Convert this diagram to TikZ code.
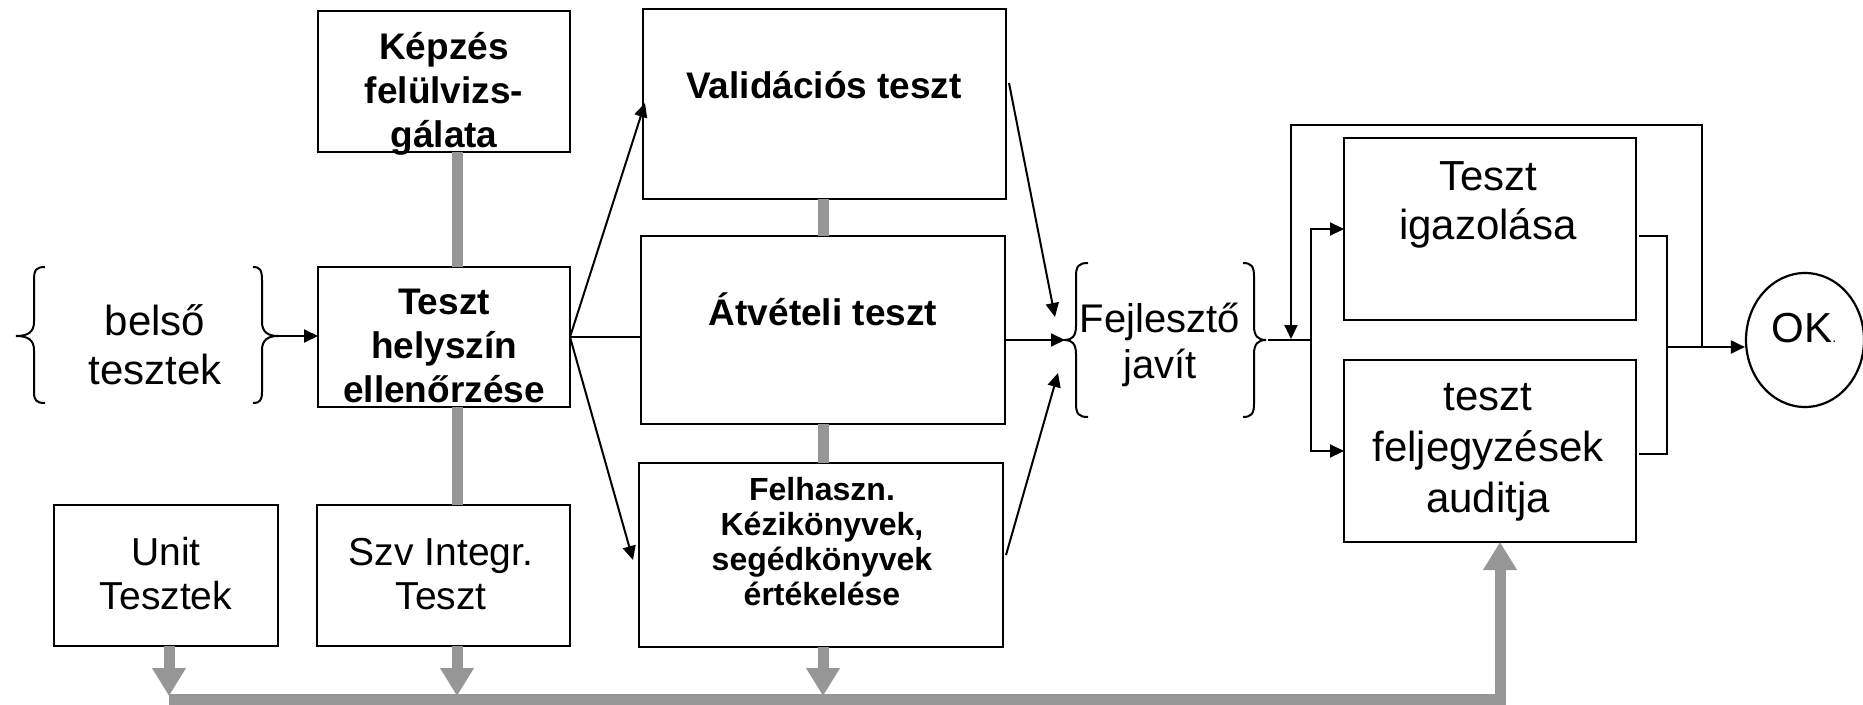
\documentclass[tikz,border=0pt]{standalone}
\usepackage{fontspec}
\setmainfont{Liberation Sans}
\usetikzlibrary{arrows.meta,calc,shapes.geometric}
\definecolor{gline}{RGB}{150,150,150}
\newcommand\fA{\fontsize{39}{44}\selectfont}
\newcommand\fB{\fontsize{42}{49}\selectfont}
\newcommand\fF{\fontsize{42}{51}\selectfont}
\newcommand\fC{\fontsize{37}{44}\selectfont\bfseries}
\newcommand\fD{\fontsize{32}{35}\selectfont\bfseries}
\newcommand\fE{\fontsize{40}{46}\selectfont}
\newcommand\ml[1]{\vtop{\halign{\hfil##\hfil\cr#1\crcr}}}
\tikzset{
  box/.style={draw, line width=2.2pt, inner sep=0pt, outer sep=0pt, anchor=north west},
  txt/.style={inner sep=0pt, outer sep=0pt, anchor=base},
  arr/.style={line width=2pt, -{Triangle[length=14pt,width=13pt]}},
  ln/.style={line width=2pt},
  gl/.style={draw=gline, line width=11pt},
  garr/.style={gl, -{Triangle[length=28pt,width=32pt]}},
  brc/.style={line width=2pt}
}
\begin{document}
\begin{tikzpicture}[x=1pt,y=-1pt]
\useasboundingbox (0,0) rectangle (1863,704);
% boxes
\node[box, minimum width=252pt, minimum height=141pt] (kep) at (318,11) {};
\node[box, minimum width=252pt, minimum height=140pt] (hely) at (318,267) {};
\node[box, minimum width=224pt, minimum height=141pt] (unit) at (54,505) {};
\node[box, minimum width=253pt, minimum height=141pt] (szv) at (317,505) {};
\node[box, minimum width=363pt, minimum height=190pt] (val) at (643,9) {};
\node[box, minimum width=364pt, minimum height=188pt] (atv) at (641,236) {};
\node[box, minimum width=364pt, minimum height=184pt] (felh) at (639,463) {};
\node[box, minimum width=292pt, minimum height=182pt] (igaz) at (1344,138) {};
\node[box, minimum width=292pt, minimum height=182pt] (feljegy) at (1344,360) {};
\node[draw, ellipse, line width=2.2pt, minimum width=118pt, minimum height=134pt, inner sep=0pt] (ok) at (1805,340) {};
% coordinates
\coordinate (g1) at (457,0);
\coordinate (gu) at (169,0);
\coordinate (gm) at (823,0);
\coordinate (busL) at (169,699);
\coordinate (busR) at (1500,699);
\coordinate (lbTip) at (278,336);
\coordinate (fejIn) at (1066,340);
\coordinate (fejOut) at (1268,340);
\coordinate (jx) at (1311,340);
\coordinate (rx) at (1667,347);
\coordinate (fbx) at (1702,347);
\coordinate (fbTop) at (1291,125);
% grey connectors
\draw[gl] (kep.south -| g1) -- (hely.north -| g1);
\draw[gl] (hely.south -| g1) -- (szv.north -| g1);
\draw[garr] (szv.south -| g1) -- ($(busL -| g1)+(0,-3)$);
\draw[garr] (unit.south -| gu) -- ($(busL)+(0,-3)$);
\draw[gl] (val.south -| gm) -- (atv.north -| gm);
\draw[gl] (atv.south -| gm) -- (felh.north -| gm);
\draw[garr] (felh.south -| gm) -- ($(busL -| gm)+(0,-3)$);
\draw[garr, line join=miter] (busL) -- (busR) -- (feljegy.south -| busR);
% braces
\draw[brc] (45,267) .. controls (36,267) and (34,270) .. (34,280) -- (34,322) .. controls (34,332) and (28,336) .. (16,336) .. controls (28,336) and (34,340) .. (34,350) -- (34,392) .. controls (34,400) and (36,403) .. (45,403);
\draw[brc] (253,267) .. controls (260,267) and (262,270) .. (262,280) -- (262,322) .. controls (262,332) and (268,336) .. (278,336) .. controls (268,336) and (262,340) .. (262,350) -- (262,392) .. controls (262,400) and (260,403) .. (253,403);
\draw[brc] (1088,263) .. controls (1079,263) and (1076,266) .. (1076,276) -- (1076,326) .. controls (1076,336) and (1072,340) .. (1065,340) .. controls (1072,340) and (1076,344) .. (1076,354) -- (1076,404) .. controls (1076,414) and (1079,417) .. (1088,417);
\draw[brc] (1243,263) .. controls (1251,263) and (1254,266) .. (1254,276) -- (1254,326) .. controls (1254,336) and (1258,340) .. (1266,340) .. controls (1258,340) and (1254,344) .. (1254,354) -- (1254,404) .. controls (1254,414) and (1251,417) .. (1243,417);
% black connectors
\draw[arr] (lbTip) -- (hely.west |- lbTip);
\draw[arr] (hely.east) -- ($(val.west)+(2,-1)$);
\draw[ln] (hely.east) -- (hely.east -| atv.west);
\draw[arr] (hely.east) -- ($(felh.west)+(-6,5)$);
\draw[arr] ($(val.east)+(3,-21)$) -- ($(fejIn)+(-11,-23)$);
\draw[arr] (atv.east |- fejIn) -- ($(fejIn)+(-1,0)$);
\draw[arr] ($(felh.east)+(3,0)$) -- ($(fejIn)+(-8,33)$);
\draw[ln] (fejOut) -- (jx);
\draw[arr] (jx) |- (igaz.west);
\draw[arr] (jx) |- (feljegy.west);
\draw[ln] ($(igaz.east)+(3,7)$) -| (rx) |- ($(feljegy.east)+(3,3)$);
\draw[arr] (rx) -- (ok.west |- rx);
\draw[arr] (fbx) |- (fbTop) -- ($(fbTop |- jx)+(0,-1)$);
% texts
\node[txt, font=\fC] (kepT) at (444,59) {\ml{Képzés\cr felülvizs-\cr gálata}};
\node[txt, font=\fC] (helyT) at (444,314) {\ml{Teszt\cr helyszín\cr ellenőrzése}};
\node[txt, font=\fB] (belsoT) at (155,335) {\ml{belső\cr tesztek}};
\node[txt, font=\fA] (unitT) at (166,565) {\ml{Unit\cr Tesztek}};
\node[txt, font=\fA] (szvT) at (441,565) {\ml{Szv Integr.\cr Teszt}};
\node[txt, font=\fC] (valT) at (824,98) {Validációs teszt};
\node[txt, font=\fC] (atvT) at (823,325) {Átvételi teszt};
\node[txt, font=\fD] (felhT) at (822,500) {\ml{Felhaszn.\cr Kézikönyvek,\cr segédkönyvek\cr értékelése}};
\node[txt, font=\fE] (fejT) at (1160,332) {\ml{Fejlesztő\cr javít}};
\node[txt, font=\fB] (igazT) at (1488,190) {\ml{Teszt\cr igazolása}};
\node[txt, font=\fF] (feljT) at (1488,410) {\ml{teszt\cr feljegyzések\cr auditja}};
\node[txt, font=\fB] (okT) at (1804,342) {OK{\fontsize{14}{14}\selectfont.}};
\end{tikzpicture}
\end{document}
